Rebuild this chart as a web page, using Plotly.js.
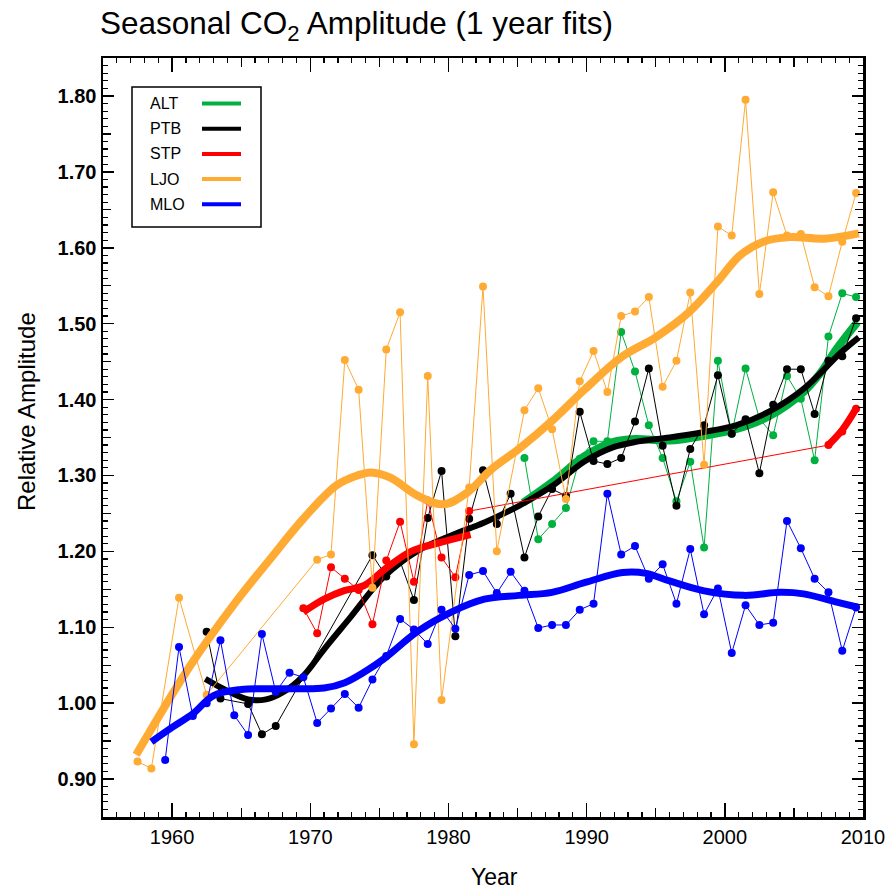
<!DOCTYPE html>
<html>
<head>
<meta charset="utf-8">
<script src="https://cdn.plot.ly/plotly-3.0.1.min.js"></script>
<style>html,body{margin:0;padding:0;background:#fff}#chart{width:888px;height:892px}</style>
</head>
<body>
<div id="chart"></div>
<script>
// ---------------- data ----------------
const stations = ['ALT', 'PTB', 'STP', 'LJO', 'MLO'];
const colors   = ['#00b140', '#000000', '#ff0000', '#ffaa33', '#0000ff'];

// yearly points (x = mid-year)
const altYears = [1985.5,1986.5,1987.5,1988.5,1989.5,1990.5,1991.5,1992.5,1993.5,1994.5,1995.5,1996.5,1997.5,1998.5,1999.5,2000.5,2001.5,2002.5,2003.5,2004.5,2005.5,2006.5,2007.5,2008.5,2009.5];
const altVals  = [1.323,1.216,1.236,1.257,1.322,1.345,1.345,1.489,1.437,1.366,1.323,1.266,1.318,1.205,1.451,1.355,1.441,1.375,1.353,1.431,1.401,1.320,1.483,1.540,1.535];

const ptbYears = [1962.5,1963.5,1965.5,1966.5,1967.5,1974.5,1975.5,1976.5,1977.5,1978.5,1979.5,1980.5,1981.5,1982.5,1983.5,1984.5,1985.5,1986.5,1987.5,1988.5,1989.5,1990.5,1991.5,1992.5,1993.5,1994.5,1995.5,1996.5,1997.5,1998.5,1999.5,2000.5,2001.5,2002.5,2003.5,2004.5,2005.5,2006.5,2007.5,2008.5,2009.5];
const ptbVals  = [1.094,1.006,0.999,0.959,0.970,1.195,1.167,1.187,1.136,1.244,1.306,1.088,1.243,1.307,1.236,1.276,1.192,1.246,1.282,1.273,1.384,1.319,1.315,1.323,1.371,1.441,1.339,1.260,1.335,1.366,1.432,1.355,1.374,1.303,1.393,1.440,1.440,1.381,1.451,1.457,1.507];

const stpYears = [1969.5,1970.5,1971.5,1972.5,1973.5,1974.5,1975.5,1976.5,1977.5,1978.5,1979.5,1980.5,1981.5,2007.5,2008.5,2009.5];
const stpVals  = [1.125,1.092,1.179,1.164,1.149,1.104,1.188,1.239,1.160,1.267,1.192,1.166,1.253,1.340,1.358,1.388];

const ljoYears = [1957.5,1958.5,1960.5,1962.5,1970.5,1971.5,1972.5,1973.5,1974.5,1975.5,1976.5,1977.5,1978.5,1979.5,1981.5,1982.5,1983.5,1985.5,1986.5,1987.5,1988.5,1989.5,1990.5,1991.5,1992.5,1993.5,1994.5,1995.5,1996.5,1997.5,1998.5,1999.5,2000.5,2001.5,2002.5,2003.5,2004.5,2005.5,2006.5,2007.5,2008.5,2009.5];
const ljoVals  = [0.923,0.914,1.139,1.011,1.189,1.196,1.452,1.413,1.152,1.466,1.515,0.946,1.431,1.004,1.284,1.549,1.200,1.386,1.415,1.361,1.269,1.424,1.464,1.410,1.510,1.516,1.535,1.417,1.451,1.541,1.314,1.628,1.616,1.795,1.539,1.673,1.616,1.618,1.548,1.536,1.608,1.672];

const mloYears = [1959.5,1960.5,1961.5,1962.5,1963.5,1964.5,1965.5,1966.5,1967.5,1968.5,1969.5,1970.5,1971.5,1972.5,1973.5,1974.5,1975.5,1976.5,1977.5,1978.5,1979.5,1980.5,1981.5,1982.5,1983.5,1984.5,1985.5,1986.5,1987.5,1988.5,1989.5,1990.5,1991.5,1992.5,1993.5,1994.5,1995.5,1996.5,1997.5,1998.5,1999.5,2000.5,2001.5,2002.5,2003.5,2004.5,2005.5,2006.5,2007.5,2008.5,2009.5];
const mloVals  = [0.925,1.074,0.983,1.000,1.083,0.984,0.958,1.091,1.015,1.040,1.034,0.974,0.993,1.012,0.994,1.031,1.062,1.111,1.097,1.078,1.123,1.098,1.169,1.174,1.145,1.173,1.148,1.099,1.103,1.103,1.123,1.131,1.276,1.196,1.207,1.164,1.183,1.131,1.203,1.117,1.151,1.066,1.129,1.103,1.106,1.240,1.204,1.164,1.146,1.069,1.126];

// smooth fits
const altFitX = [1985.4,1987.5,1989.9,1991.9,1993.5,1996.0,1998.4,2000.8,2003.3,2005.7,2007.0,2008.1,2009.6];
const altFitY = [1.264,1.291,1.326,1.344,1.348,1.346,1.352,1.361,1.379,1.410,1.437,1.467,1.502];

const ptbFitX = [1962.4,1963.7,1965.5,1966.8,1968.0,1969.5,1971.0,1972.9,1975.3,1977.8,1980.2,1982.6,1985.1,1987.5,1989.9,1991.9,1993.5,1996.0,1998.4,2000.8,2003.3,2005.7,2008.4,2009.7];
const ptbFitY = [1.032,1.019,1.005,1.005,1.014,1.036,1.071,1.113,1.166,1.201,1.221,1.238,1.260,1.286,1.319,1.337,1.344,1.350,1.357,1.366,1.385,1.414,1.462,1.482];

const stpFit1X = [1969.5,1971.0,1972.4,1973.9,1975.5,1977.3,1979.5,1981.6];
const stpFit1Y = [1.120,1.137,1.148,1.155,1.178,1.200,1.212,1.222];
const stpFit2X = [2007.5,2008.5,2009.5];
const stpFit2Y = [1.340,1.360,1.388];

const ljoFitX = [1957.4,1961.3,1964.6,1967.1,1969.5,1971.9,1973.4,1974.4,1975.8,1977.8,1979.7,1981.4,1983.1,1985.1,1987.5,1989.9,1992.6,1995.0,1997.4,1999.4,2001.1,2002.8,2004.7,2007.2,2009.7];
const ljoFitY = [0.932,1.049,1.133,1.190,1.243,1.287,1.300,1.304,1.297,1.273,1.262,1.278,1.308,1.335,1.372,1.414,1.457,1.482,1.515,1.554,1.590,1.608,1.614,1.612,1.619];

const mloFitX = [1958.5,1960.0,1961.5,1963.0,1965.0,1967.0,1969.0,1971.0,1972.5,1974.0,1975.3,1977.8,1980.2,1982.6,1985.1,1987.5,1989.9,1992.6,1994.3,1996.0,1998.5,2001.4,2004.0,2005.7,2008.1,2009.7];
const mloFitY = [0.949,0.968,0.986,1.010,1.018,1.019,1.019,1.020,1.027,1.042,1.058,1.095,1.120,1.137,1.142,1.146,1.159,1.172,1.171,1.161,1.148,1.142,1.146,1.144,1.133,1.126];

const xTickVals = [1960, 1970, 1980, 1990, 2000, 2010];
const yTickVals = [0.90, 1.00, 1.10, 1.20, 1.30, 1.40, 1.50, 1.60, 1.70, 1.80];

// ---------------- traces ----------------
const pts  = [[altYears, altVals], [ptbYears, ptbVals], [stpYears, stpVals], [ljoYears, ljoVals], [mloYears, mloVals]];
const fits = [[[altFitX, altFitY]], [[ptbFitX, ptbFitY]], [[stpFit1X, stpFit1Y], [stpFit2X, stpFit2Y]], [[ljoFitX, ljoFitY]], [[mloFitX, mloFitY]]];
const fitWidth = [8, 6, 7, 8, 7];

const traces = [];
stations.forEach((s, i) => {
  traces.push({
    type: 'scatter', mode: 'lines+markers', name: s + ' data',
    x: pts[i][0], y: pts[i][1],
    line: {color: colors[i], width: 1}, marker: {color: colors[i], size: 8},
    showlegend: false, hoverinfo: 'x+y'
  });
  fits[i].forEach(f => {
    traces.push({
      type: 'scatter', mode: 'lines', name: s,
      x: f[0], y: f[1],
      line: {color: colors[i], width: fitWidth[i], shape: 'spline', smoothing: 1},
      showlegend: false, hoverinfo: 'x+y'
    });
  });
});
// empty trace to activate the overlay axes that carry the 5-year / 0.05 ticks
traces.push({type: 'scatter', x: [], y: [], xaxis: 'x2', yaxis: 'y2', showlegend: false, hoverinfo: 'skip'});

// ---------------- layout ----------------
const W = 888, H = 892;
const M = {l: 103, r: 25, t: 58, b: 75};
const pw = W - M.l - M.r, ph = H - M.t - M.b;
const px2x = p => (p - M.l) / pw;          // pixel -> paper
const py2y = p => (H - M.b - p) / ph;

const FONT = 'Liberation Sans, Arial, sans-serif';
const xr = [1955, 2010], yr = [0.85, 1.85];

// hand-made legend (text left, line sample right, as in the reference)
const shapes = [{type: 'rect', xref: 'paper', yref: 'paper',
  x0: px2x(132), x1: px2x(261), y0: py2y(227), y1: py2y(87),
  line: {color: '#000', width: 1.5}, fillcolor: 'rgba(255,255,255,0)'}];
const annotations = [];
stations.forEach((s, i) => {
  const yc = 103.5 + i * 25.2;
  annotations.push({xref: 'paper', yref: 'paper', x: px2x(148), y: py2y(yc), xanchor: 'left', yanchor: 'middle',
    text: s, showarrow: false, font: {family: FONT, size: 16, color: '#000'}});
  shapes.push({type: 'line', xref: 'paper', yref: 'paper', x0: px2x(202), x1: px2x(241), y0: py2y(yc), y1: py2y(yc),
    line: {color: colors[i], width: 4}});
});
annotations.push({xref: 'paper', yref: 'paper', x: px2x(494), y: py2y(877), xanchor: 'center', yanchor: 'middle',
  text: 'Year', showarrow: false, font: {family: FONT, size: 23, color: '#000'}});
annotations.push({xref: 'paper', yref: 'paper', x: px2x(26), y: py2y(412), xanchor: 'center', yanchor: 'middle',
  text: 'Relative Amplitude', textangle: -90, showarrow: false, font: {family: FONT, size: 24, color: '#000'}});

const layout = {
  width: W, height: H, margin: M,
  paper_bgcolor: '#fff', plot_bgcolor: '#fff',
  font: {family: FONT, color: '#000'},
  title: {text: 'Seasonal CO<sub>2</sub> Amplitude (1 year fits)', font: {family: FONT, size: 31.5, color: '#000'},
    xref: 'container', x: 100 / W, xanchor: 'left', yref: 'container', y: 1 - 23 / H, yanchor: 'middle'},
  xaxis: {range: xr, tickmode: 'array', tickvals: xTickVals, ticktext: xTickVals.map(String),
    ticks: 'inside', ticklen: 14, tickwidth: 1.5, tickcolor: '#000',
    minor: {dtick: 1, tick0: 1955, ticks: 'inside', ticklen: 5, tickwidth: 1.2, tickcolor: '#000'},
    showline: true, linewidth: 2.5, linecolor: '#000', mirror: 'allticks',
    showgrid: false, zeroline: false, tickfont: {family: FONT, size: 20, color: '#000'}},
  yaxis: {range: yr, tickmode: 'array', tickvals: yTickVals, ticktext: yTickVals.map(v => v.toFixed(2)),
    ticks: 'inside', ticklen: 11, tickwidth: 1.5, tickcolor: '#000',
    minor: {dtick: 0.01, tick0: 0.85, ticks: 'inside', ticklen: 5, tickwidth: 1.2, tickcolor: '#000'},
    showline: true, linewidth: 2.5, linecolor: '#000', mirror: 'allticks',
    showgrid: false, zeroline: false, tickfont: {family: FONT, size: 20, color: '#000', weight: 'bold'}},
  xaxis2: {overlaying: 'x', anchor: 'y2', range: xr, dtick: 5, tick0: 1955, ticks: 'inside', ticklen: 9, tickwidth: 1.2,
    tickcolor: '#000', showticklabels: false, showline: false, mirror: 'allticks', showgrid: false, zeroline: false},
  yaxis2: {overlaying: 'y', anchor: 'x2', range: yr, dtick: 0.05, tick0: 0.85, ticks: 'inside', ticklen: 8, tickwidth: 1.2,
    tickcolor: '#000', showticklabels: false, showline: false, mirror: 'allticks', showgrid: false, zeroline: false},
  shapes: shapes, annotations: annotations, showlegend: false
};

Plotly.newPlot('chart', traces, layout, {displayModeBar: false, staticPlot: true});
</script>
</body>
</html>
